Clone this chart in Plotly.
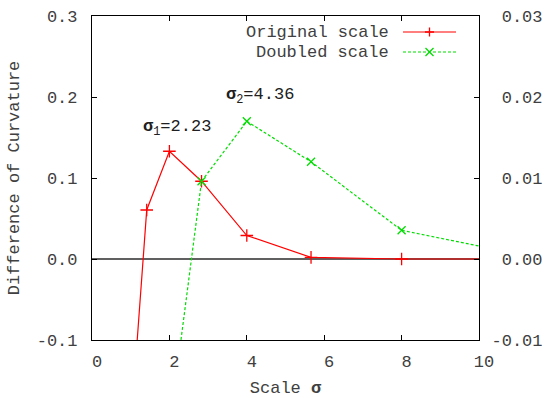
import plotly.graph_objects as go

# ---- data ----
orig_scale = [1.0, 1.414, 2.0, 2.83, 4.0, 5.66, 8.0, 11.31]
orig_diff = [-0.21, 0.0605, 0.133, 0.096, 0.029, 0.002, 0.0, 0.0]

dbl_scale = [2.0, 2.83, 4.0, 5.66, 8.0, 11.31]
dbl_diff = [-0.021, 0.0096, 0.0170, 0.0120, 0.00354, 0.00033]

series_names = ["Original scale", "Doubled scale"]
x_ticks = [0, 2, 4, 6, 8, 10]
y_ticks = [-0.1, 0.0, 0.1, 0.2, 0.3]
y_ticktext = ["-0.1", "0.0", "0.1", "0.2", "0.3"]
y2_ticks = [-0.01, 0.0, 0.01, 0.02, 0.03]
y2_ticktext = ["-0.01", "\u00a00.00", "\u00a00.01", "\u00a00.02", "\u00a00.03"]
peak_labels = [("<b>σ</b><sub>1</sub>=2.23", 2.2, 0.162), ("<b>σ</b><sub>2</sub>=4.36", 4.34, 0.201)]

RED = "#ff0000"
GREEN = "#00dd00"
FONT = "Liberation Mono"
TXT = "#404040"
FS = 17

W, H = 549, 398
ML, MR, MT, MB = 92, 70, 16, 58
PW, PH = W - ML - MR, H - MT - MB

fig = go.Figure()
fig.add_trace(go.Scatter(
    x=orig_scale, y=orig_diff, mode="lines+markers", name=series_names[0],
    line=dict(color=RED, width=1.2),
    marker=dict(symbol="cross-thin", size=9, line=dict(color=RED, width=1.3)),
    showlegend=False))
fig.add_trace(go.Scatter(
    x=dbl_scale, y=dbl_diff, mode="lines+markers", name=series_names[1], yaxis="y2",
    line=dict(color=GREEN, width=1.2, dash="3px,2px"),
    marker=dict(symbol="x-thin", size=8, line=dict(color=GREEN, width=1.3)),
    showlegend=False))

for txt, x, y in peak_labels:
    fig.add_annotation(x=x, y=y, xref="x", yref="y", text=txt, showarrow=False,
                       font=dict(family=FONT, size=FS, color="#202020"))

# manual gnuplot-style legend (text left, sample right)
def px2paper(px, py):
    return (px - ML) / PW, (H - MB - py) / PH

rows = [(32, RED, "solid", "plus", series_names[0]), (52, GREEN, "dot", "x", series_names[1])]
for py, col, dash, sym, name in rows:
    tx, ty = px2paper(391, py)
    fig.add_annotation(x=tx, y=ty, xref="paper", yref="paper", text=name, showarrow=False,
                       xanchor="right", yanchor="middle",
                       font=dict(family=FONT, size=FS, color=TXT))
    x0, y0 = px2paper(403, py)
    x1, _ = px2paper(456, py)
    fig.add_shape(type="line", xref="paper", yref="paper", x0=x0, x1=x1, y0=y0, y1=y0,
                  line=dict(color=col, width=1.2, dash="3px,2px" if dash == "dot" else "solid"))
    cx, cy = px2paper(429.5, py)
    if sym == "plus":
        path = "M -4.5 0 L 4.5 0 M 0 -4.5 L 0 4.5"
    else:
        path = "M -4 -4 L 4 4 M -4 4 L 4 -4"
    fig.add_shape(type="path", xref="paper", yref="paper", xsizemode="pixel", ysizemode="pixel",
                  xanchor=cx, yanchor=cy, path=path, line=dict(color=col, width=1.3))

axis_common = dict(showline=True, linecolor="black", linewidth=1.2, ticks="inside", ticklen=5,
                   tickcolor="black", showgrid=False, automargin=False,
                   tickfont=dict(family=FONT, size=FS, color=TXT))

fig.update_layout(
    template="none",
    width=W, height=H, margin=dict(l=ML, r=MR, t=MT, b=MB, autoexpand=False),
    plot_bgcolor="white", paper_bgcolor="white",
    xaxis=dict(range=[0, 10], tickvals=x_ticks, mirror="ticks", zeroline=False,
               title=dict(text="Scale <b>σ</b>", font=dict(family=FONT, size=FS, color=TXT), standoff=18),
               ticklabelstandoff=5, ticklabelshift=5, **axis_common),
    yaxis=dict(range=[-0.1, 0.3], tickvals=y_ticks, ticktext=y_ticktext, mirror=True,
               zeroline=True, zerolinecolor="#606060", zerolinewidth=1.6,
               title=dict(text="Difference of Curvature", font=dict(family=FONT, size=FS, color=TXT), standoff=12),
               ticklabelstandoff=10, **axis_common),
    yaxis2=dict(range=[-0.01, 0.03], tickvals=y2_ticks, ticktext=y2_ticktext, overlaying="y",
                side="right", zeroline=False, ticklabelstandoff=8, **axis_common),
)

fig.write_html("out.html", config={"displayModeBar": False},
               post_script="document.body.style.margin='0';document.body.style.overflow='hidden';")
